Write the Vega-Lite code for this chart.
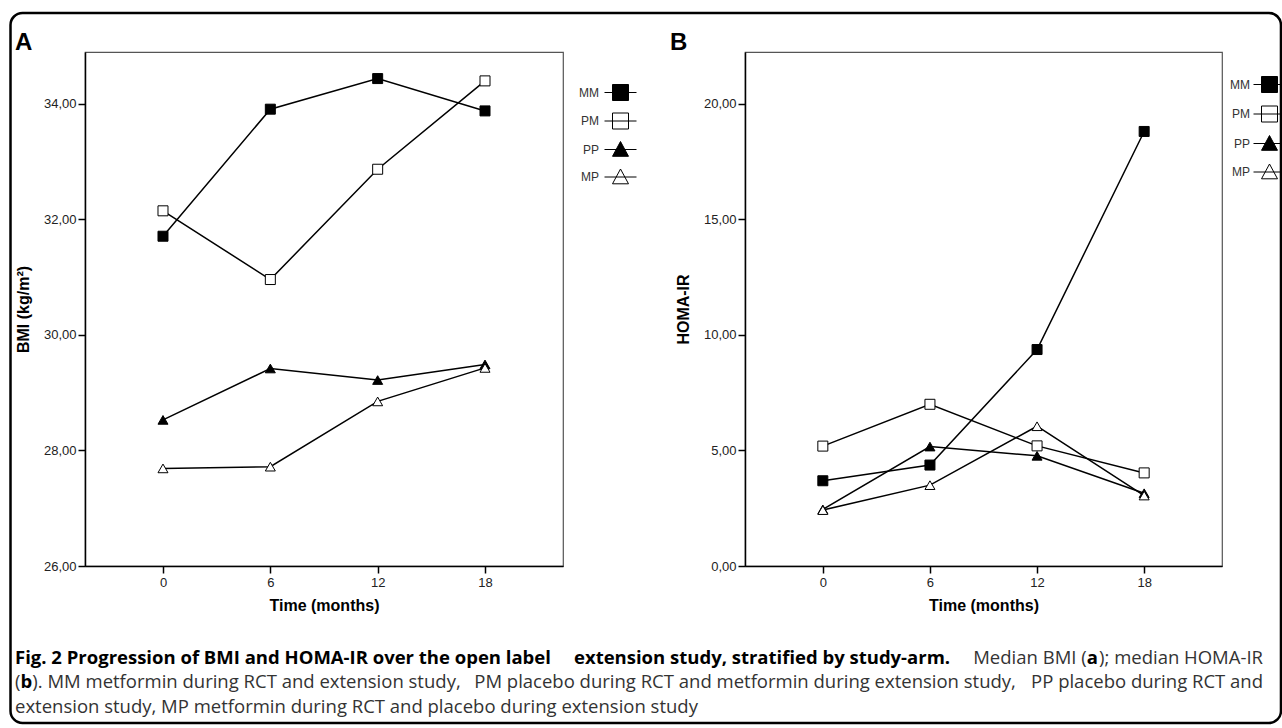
{
  "$schema": "https://vega.github.io/schema/vega-lite/v6.json",
  "background": "white",
  "padding": {"left": 8, "top": 11, "right": 0, "bottom": 2},
  "datasets": {
    "bmi": [
      {"arm": "MM", "t": 0, "v": 31.71}, {"arm": "MM", "t": 6, "v": 33.91}, {"arm": "MM", "t": 12, "v": 34.44}, {"arm": "MM", "t": 18, "v": 33.88},
      {"arm": "PM", "t": 0, "v": 32.15}, {"arm": "PM", "t": 6, "v": 30.96}, {"arm": "PM", "t": 12, "v": 32.87}, {"arm": "PM", "t": 18, "v": 34.40},
      {"arm": "PP", "t": 0, "v": 28.53}, {"arm": "PP", "t": 6, "v": 29.42}, {"arm": "PP", "t": 12, "v": 29.22}, {"arm": "PP", "t": 18, "v": 29.49},
      {"arm": "MP", "t": 0, "v": 27.69}, {"arm": "MP", "t": 6, "v": 27.72}, {"arm": "MP", "t": 12, "v": 28.85}, {"arm": "MP", "t": 18, "v": 29.43}
    ],
    "homa": [
      {"arm": "MM", "t": 0, "v": 3.69}, {"arm": "MM", "t": 6, "v": 4.37}, {"arm": "MM", "t": 12, "v": 9.37}, {"arm": "MM", "t": 18, "v": 18.81},
      {"arm": "PM", "t": 0, "v": 5.19}, {"arm": "PM", "t": 6, "v": 7.00}, {"arm": "PM", "t": 12, "v": 5.20}, {"arm": "PM", "t": 18, "v": 4.03},
      {"arm": "PP", "t": 0, "v": 2.45}, {"arm": "PP", "t": 6, "v": 5.17}, {"arm": "PP", "t": 12, "v": 4.77}, {"arm": "PP", "t": 18, "v": 3.15},
      {"arm": "MP", "t": 0, "v": 2.42}, {"arm": "MP", "t": 6, "v": 3.50}, {"arm": "MP", "t": 12, "v": 6.05}, {"arm": "MP", "t": 18, "v": 3.05}
    ],
    "caption": [
      {"line": 1, "seg": "frame", "text": ""},
      {"line": 1, "seg": "b1", "text": "Fig. 2 Progression of BMI and HOMA-IR over the open label"},
      {"line": 1, "seg": "b2", "text": "extension study, stratified by study-arm."},
      {"line": 1, "seg": "e1", "text": "Median BMI ("},
      {"line": 1, "seg": "e2", "text": "a"},
      {"line": 1, "seg": "e3", "text": "); median HOMA-IR"},
      {"line": 2, "seg": "s1", "text": "("},
      {"line": 2, "seg": "s2", "text": "b"},
      {"line": 2, "seg": "s3", "text": "). MM metformin during RCT and extension study,"},
      {"line": 2, "seg": "mid", "text": "PM placebo during RCT and metformin during extension study,"},
      {"line": 2, "seg": "e3", "text": "PP placebo during RCT and"},
      {"line": 3, "seg": "s1", "text": "extension study, MP metformin during RCT and placebo during extension study"},
      {"line": 0, "seg": "panelA", "text": "A"},
      {"line": 0, "seg": "panelB", "text": "B"}
    ]
  },
  "config": {
    "font": "Liberation Sans",
    "view": {"stroke": "#555", "strokeWidth": 1.2},
    "axis": {
      "grid": false, "domainColor": "black", "domainWidth": 1.5,
      "tickColor": "black", "tickWidth": 1.5, "tickSize": 7,
      "labelFont": "Liberation Sans", "labelFontSize": 13, "labelColor": "#222", "labelPadding": 2,
      "labelFlush": false, "labelOverlap": false,
      "titleFont": "Liberation Sans", "titleFontSize": 16, "titleFontWeight": "bold", "titleColor": "black"
    },
    "legend": {
      "padding": 0, "labelFont": "Liberation Sans", "labelFontSize": 12, "labelColor": "#333",
      "symbolStrokeColor": "black", "symbolStrokeWidth": 1, "symbolOpacity": 1, "symbolSize": 256
    }
  },
  "hconcat": [
    {
      "width": 478, "height": 514,
      "layer": [
        {
          "data": {"name": "bmi"},
          "encoding": {
            "x": {"field": "t", "type": "quantitative", "scale": {"domain": [-4.36, 22.36], "nice": false, "zero": false},
                  "axis": {"values": [0, 6, 12, 18], "title": "Time (months)", "labelPadding": 3, "titlePadding": 8}},
            "y": {"field": "v", "type": "quantitative", "scale": {"domain": [26, 34.9], "nice": false, "zero": false},
                  "axis": {"values": [26, 28, 30, 32, 34], "labelExpr": "replace(format(datum.value, '.2f'), '.', ',')", "title": "BMI (kg/m²)", "titlePadding": 12}}
          },
          "layer": [
            {"mark": {"type": "line", "color": "black", "strokeWidth": 1.5},
             "encoding": {"detail": {"field": "arm"}}},
            {"mark": {"type": "point", "stroke": "black", "strokeWidth": 1, "opacity": 1},
             "encoding": {
               "shape": {"field": "arm", "scale": {"domain": ["MM", "PM", "PP", "MP"], "range": ["square", "square", "triangle-up", "triangle-up"]}, "legend": null},
               "fill": {"field": "arm", "scale": {"domain": ["MM", "PM", "PP", "MP"], "range": ["black", "white", "black", "white"]}, "legend": null},
               "size": {"field": "arm", "scale": {"domain": ["MM", "PM", "PP", "MP"], "range": [100, 100, 150, 150]}, "legend": null}
             }},
            {"transform": [{"filter": "datum.t > 100"}],
             "mark": {"type": "point", "strokeWidth": 1, "opacity": 1},
             "encoding": {
               "shape": {"field": "arm", "scale": {"domain": ["MM", "PM", "PP", "MP"], "range": ["M-2,0H2M-1,-1H1V1H-1Z", "M-2,0H2M-1,-1H1V1H-1Z", "M-2,0H2M0,-1L1,0.85H-1Z", "M-2,0H2M0,-1L1,0.85H-1Z"]},
                         "legend": {"title": null, "orient": "none", "legendX": 527, "legendY": 32, "labelAlign": "right", "labelOffset": -30, "rowPadding": 7.5}},
               "fill": {"field": "arm", "scale": {"domain": ["MM", "PM", "PP", "MP"], "range": ["black", "white", "black", "white"]},
                        "legend": {"title": null, "orient": "none", "legendX": 527, "legendY": 32, "labelAlign": "right", "labelOffset": -30, "rowPadding": 7.5}},
               "stroke": {"field": "arm", "scale": {"domain": ["MM", "PM", "PP", "MP"], "range": ["black", "black", "black", "black"]},
                        "legend": {"title": null, "orient": "none", "legendX": 527, "legendY": 32, "labelAlign": "right", "labelOffset": -30, "rowPadding": 7.5}}
             }}
          ],
          "resolve": {"scale": {"shape": "independent", "fill": "independent", "stroke": "independent", "size": "independent"}}
        },
        {
          "data": {"name": "caption"},
          "encoding": {
            "x": {"datum": 0, "type": "quantitative", "scale": {"domain": [0.05609, 0.439103], "nice": false, "zero": false}, "axis": null},
            "y": {"field": "line", "type": "quantitative", "scale": {"domain": [-23.7347, -2.7551], "reverse": true, "nice": false, "zero": false}, "axis": null},
            "text": {"field": "text"}
          },
          "layer": [
            {"transform": [{"filter": "datum.seg == 'frame'"}],
             "mark": {"type": "rect", "filled": false, "stroke": "black", "strokeWidth": 2.5, "cornerRadius": 12},
             "encoding": {
               "x": {"datum": -0.0036, "type": "quantitative", "scale": {"domain": [0.05609, 0.439103], "nice": false, "zero": false}, "axis": null},
               "x2": {"datum": 1.0144},
               "y": {"datum": -25.327, "type": "quantitative", "scale": {"domain": [-23.7347, -2.7551], "reverse": true, "nice": false, "zero": false}, "axis": null},
               "y2": {"datum": 3.653},
               "text": null
             }},
            {"transform": [{"filter": "datum.seg == 'panelA'"}],
             "mark": {"type": "text", "align": "left", "baseline": "alphabetic", "font": "Liberation Sans", "fontSize": 24, "fontWeight": "bold", "color": "black"},
             "encoding": {
               "y": {"datum": -23.816, "type": "quantitative", "scale": {"domain": [-23.7347, -2.7551], "reverse": true, "nice": false, "zero": false}, "axis": null}
             }},
            {"transform": [{"filter": "datum.seg == 'panelB'"}],
             "mark": {"type": "text", "align": "left", "baseline": "alphabetic", "font": "Liberation Sans", "fontSize": 24, "fontWeight": "bold", "color": "black"},
             "encoding": {
               "x": {"datum": 0.52484, "type": "quantitative", "scale": {"domain": [0.05609, 0.439103], "nice": false, "zero": false}, "axis": null},
               "y": {"datum": -23.816, "type": "quantitative", "scale": {"domain": [-23.7347, -2.7551], "reverse": true, "nice": false, "zero": false}, "axis": null}
             }},
            {"transform": [{"filter": "datum.seg == 'b1'"}],
             "mark": {"type": "text", "align": "left", "baseline": "middle", "font": "Open Sans", "fontSize": 18.5, "fontWeight": "bold", "color": "black"}},
            {"transform": [{"filter": "datum.seg == 'b2'"}],
             "mark": {"type": "text", "align": "center", "baseline": "middle", "font": "Open Sans", "fontSize": 18.5, "fontWeight": "bold", "color": "black"},
             "encoding": {
               "x": {"datum": 0.5986, "type": "quantitative", "scale": {"domain": [0.05609, 0.439103], "nice": false, "zero": false}, "axis": null}
             }},
            {"transform": [{"filter": "datum.seg == 's1'"}],
             "mark": {"type": "text", "align": "left", "baseline": "middle", "font": "Open Sans", "fontSize": 18.5, "color": "#333"}},
            {"transform": [{"filter": "datum.seg == 's2'"}],
             "mark": {"type": "text", "align": "left", "baseline": "middle", "font": "Open Sans", "fontSize": 18.5, "fontWeight": "bold", "color": "black", "dx": 5.5}},
            {"transform": [{"filter": "datum.seg == 's3'"}],
             "mark": {"type": "text", "align": "left", "baseline": "middle", "font": "Open Sans", "fontSize": 18.5, "color": "#333", "dx": 17.3}},
            {"transform": [{"filter": "datum.seg == 'mid'"}],
             "mark": {"type": "text", "align": "center", "baseline": "middle", "font": "Open Sans", "fontSize": 18.5, "color": "#333"},
             "encoding": {
               "x": {"datum": 0.585, "type": "quantitative", "scale": {"domain": [0.05609, 0.439103], "nice": false, "zero": false}, "axis": null}
             }},
            {"transform": [{"filter": "datum.seg == 'e3'"}],
             "mark": {"type": "text", "align": "right", "baseline": "middle", "font": "Open Sans", "fontSize": 18.5, "color": "#333"},
             "encoding": {
               "x": {"datum": 1, "type": "quantitative", "scale": {"domain": [0.05609, 0.439103], "nice": false, "zero": false}, "axis": null}
             }},
            {"transform": [{"filter": "datum.seg == 'e2'"}],
             "mark": {"type": "text", "align": "right", "baseline": "middle", "font": "Open Sans", "fontSize": 18.5, "fontWeight": "bold", "color": "black", "dx": -165},
             "encoding": {
               "x": {"datum": 1, "type": "quantitative", "scale": {"domain": [0.05609, 0.439103], "nice": false, "zero": false}, "axis": null}
             }},
            {"transform": [{"filter": "datum.seg == 'e1'"}],
             "mark": {"type": "text", "align": "right", "baseline": "middle", "font": "Open Sans", "fontSize": 18.5, "color": "#333", "dx": -176.3},
             "encoding": {
               "x": {"datum": 1, "type": "quantitative", "scale": {"domain": [0.05609, 0.439103], "nice": false, "zero": false}, "axis": null}
             }}
          ]
        }
      ],
      "resolve": {"scale": {"x": "independent", "y": "independent"}, "axis": {"x": "independent", "y": "independent"}}
    },
    {
      "width": 477, "height": 514,
      "data": {"name": "homa"},
      "encoding": {
        "x": {"field": "t", "type": "quantitative", "scale": {"domain": [-4.36, 22.36], "nice": false, "zero": false},
              "axis": {"values": [0, 6, 12, 18], "title": "Time (months)", "labelPadding": 3, "titlePadding": 8}},
        "y": {"field": "v", "type": "quantitative", "scale": {"domain": [0, 22.25], "nice": false, "zero": false},
              "axis": {"values": [0, 5, 10, 15, 20], "labelExpr": "replace(format(datum.value, '.2f'), '.', ',')", "title": "HOMA-IR", "titlePadding": 12}}
      },
      "layer": [
        {"mark": {"type": "line", "color": "black", "strokeWidth": 1.5},
         "encoding": {"detail": {"field": "arm"}}},
        {"mark": {"type": "point", "stroke": "black", "strokeWidth": 1, "opacity": 1},
         "encoding": {
           "shape": {"field": "arm", "scale": {"domain": ["MM", "PM", "PP", "MP"], "range": ["square", "square", "triangle-up", "triangle-up"]}, "legend": null},
           "fill": {"field": "arm", "scale": {"domain": ["MM", "PM", "PP", "MP"], "range": ["black", "white", "black", "white"]}, "legend": null},
           "size": {"field": "arm", "scale": {"domain": ["MM", "PM", "PP", "MP"], "range": [100, 100, 150, 150]}, "legend": null}
         }},
        {"transform": [{"filter": "datum.t > 100"}],
         "mark": {"type": "point", "strokeWidth": 1, "opacity": 1},
         "encoding": {
           "shape": {"field": "arm", "scale": {"domain": ["MM", "PM", "PP", "MP"], "range": ["M-2,0H1.4M-1,-1H1V1H-1Z", "M-2,0H1.4M-1,-1H1V1H-1Z", "M-2,0H1.4M0,-1L1,0.85H-1Z", "M-2,0H1.4M0,-1L1,0.85H-1Z"]},
                     "legend": {"title": null, "orient": "none", "legendX": 516, "legendY": 24, "labelAlign": "right", "labelOffset": -28, "rowPadding": 8.5}},
           "fill": {"field": "arm", "scale": {"domain": ["MM", "PM", "PP", "MP"], "range": ["black", "white", "black", "white"]},
                    "legend": {"title": null, "orient": "none", "legendX": 516, "legendY": 24, "labelAlign": "right", "labelOffset": -28, "rowPadding": 8.5}},
           "stroke": {"field": "arm", "scale": {"domain": ["MM", "PM", "PP", "MP"], "range": ["black", "black", "black", "black"]},
                    "legend": {"title": null, "orient": "none", "legendX": 516, "legendY": 24, "labelAlign": "right", "labelOffset": -28, "rowPadding": 8.5}}
         }}
      ],
      "resolve": {"scale": {"shape": "independent", "fill": "independent", "stroke": "independent", "size": "independent"}}
    }
  ],
  "spacing": 182,
  "bounds": "flush"
}
